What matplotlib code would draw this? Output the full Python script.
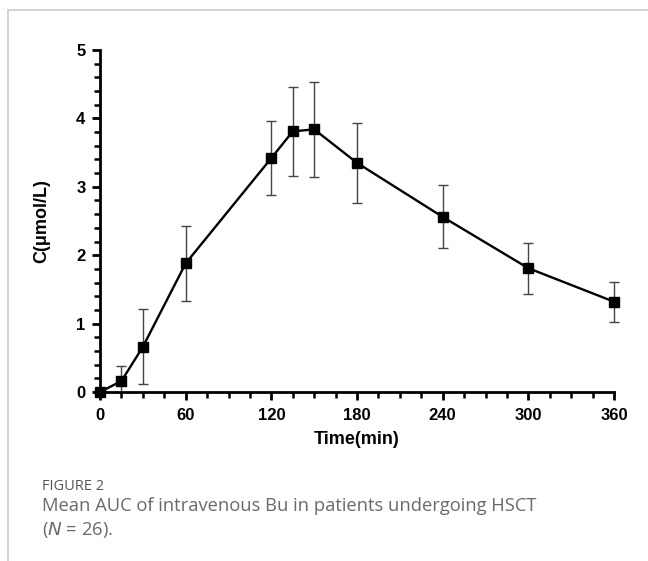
import matplotlib.pyplot as plt
from matplotlib.ticker import MultipleLocator
from matplotlib.lines import Line2D
from matplotlib.patches import Rectangle

# mean concentration and SD
time_min = [0, 15, 30, 60, 120, 135, 150, 180, 240, 300, 360]
conc_mean = [0.0, 0.16, 0.66, 1.88, 3.42, 3.81, 3.84, 3.35, 2.56, 1.81, 1.32]
conc_sd = [0.0, 0.22, 0.55, 0.55, 0.54, 0.65, 0.69, 0.58, 0.46, 0.37, 0.29]

fig = plt.figure(figsize=(6.48, 5.61), dpi=100)

# light grey frame of the figure panel
fig.add_artist(Line2D([8 / 648, 1], [1 - 10 / 561] * 2, color='#cccccc', lw=1.2))
fig.add_artist(Line2D([8 / 648] * 2, [0, 1 - 10 / 561], color='#cccccc', lw=1.2))

ax = fig.add_axes([100 / 648, 1 - 392 / 561, 514 / 648, 342 / 561])
eb = ax.errorbar(time_min, conc_mean, yerr=conc_sd, fmt='none', ecolor='#444444',
                 elinewidth=1.0, capsize=3.5, capthick=1.0, zorder=2)
# hide only what falls below the x axis, keep caps at the right edge
clip = Rectangle((-0.05, 0), 1.1, 1.1, transform=ax.transAxes, visible=False)
ax.add_patch(clip)
for art in list(eb.lines[1]) + list(eb.lines[2]):
    art.set_clip_path(clip)

ax.plot(time_min, conc_mean, color='black', lw=1.7, marker='s', ms=7.5,
        clip_on=False, zorder=3)

ax.set_xlim(0, 360)
ax.set_ylim(0, 5)
ax.xaxis.set_major_locator(MultipleLocator(60))
ax.xaxis.set_minor_locator(MultipleLocator(15))
ax.yaxis.set_major_locator(MultipleLocator(1))
ax.yaxis.set_minor_locator(MultipleLocator(0.2))

for s in ['top', 'right']:
    ax.spines[s].set_visible(False)
for s in ['left', 'bottom']:
    ax.spines[s].set_linewidth(2.0)

ax.tick_params(which='major', length=6, width=2.0, direction='out')
ax.tick_params(axis='x', which='major', pad=5.5)
ax.tick_params(axis='y', which='major', pad=4.5)
ax.tick_params(which='minor', length=4, width=1.8, direction='out')
for lab in ax.get_xticklabels() + ax.get_yticklabels():
    lab.set_fontweight('bold')
    lab.set_fontsize(12)
    lab.set_family('Liberation Sans')

ax.set_xlabel('Time(min)', fontsize=13, fontweight='bold', family='Liberation Sans', va='center')
ax.xaxis.set_label_coords(0.5, (392 - 440) / 342)
ax.set_ylabel('C(μmol/L)', fontsize=13, fontweight='bold', family='Liberation Sans', va='center')
ax.yaxis.set_label_coords((42 - 100) / 514, 0.5)

# caption
fig.text(42 / 648, 1 - 486 / 561, 'FIGURE 2', fontsize=10.5, color='#555555',
         family='Open Sans', va='center')
fig.text(42 / 648, 1 - 506 / 561, 'Mean AUC of intravenous Bu in patients undergoing HSCT',
         fontsize=13.2, color='#6a6a6a', family='Open Sans', va='center')
fig.text(42 / 648, 1 - 530 / 561, '($\\it{N}$ = 26).',
         fontsize=13.2, color='#6a6a6a', family='Open Sans', va='center')

plt.savefig('out.png', dpi=100)
